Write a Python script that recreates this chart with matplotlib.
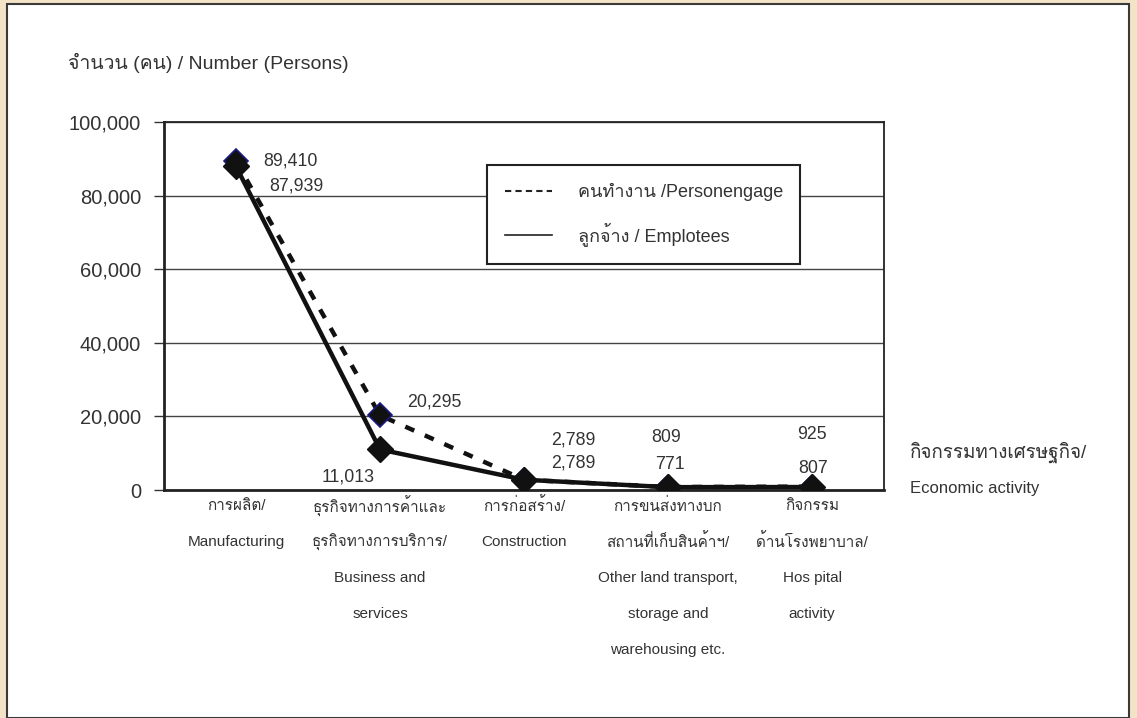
#!/usr/bin/env python3
"""
Employment by economic activity - line chart
"""

import matplotlib
matplotlib.use('Agg')
import matplotlib.pyplot as plt
from matplotlib import font_manager
from matplotlib.ft2font import FT2Font
from matplotlib.lines import Line2D
from matplotlib.patches import Rectangle

categories = [
    'การผลิต/\nManufacturing',
    'ธุรกิจทางการค้าและ\nธุรกิจทางการบริการ/\nBusiness and\nservices',
    'การก่อสร้าง/\nConstruction',
    'การขนส่งทางบก\nสถานที่เก็บสินค้าฯ/\nOther land transport,\nstorage and\nwarehousing etc.',
    'กิจกรรม\nด้านโรงพยาบาล/\nHos pital\nactivity',
]
persons_engaged = [89410, 20295, 2789, 809, 925]
employees = [87939, 11013, 2789, 771, 807]
yticks = [0, 20000, 40000, 60000, 80000, 100000]

# label offsets in pixels (dx, dy) and horizontal alignment
engaged_offsets = [(27, 0, 'left'), (27, 13, 'left'), (27, 40, 'left'),
                   (-2, 50, 'center'), (0, 52, 'center')]
employee_offsets = [(33, -20, 'left'), (-5, -28, 'right'), (27, 17, 'left'),
                    (2, 23, 'center'), (1, 19, 'center')]


def find_thai_font():
    """Look for any installed font that has Thai glyphs"""
    for f in font_manager.fontManager.ttflist:
        try:
            if 0x0E01 in FT2Font(f.fname).get_charmap():
                return f.name
        except Exception:
            pass
    return None


thai = find_thai_font()
families = ['Liberation Sans'] + ([thai] if thai else []) + ['DejaVu Sans']
plt.rcParams['font.family'] = families

TXT = '#333333'

fig = plt.figure(figsize=(11.37, 7.18), dpi=100)
fig.patch.set_facecolor('#f3e4c7')
W, H = 1137, 718
fig.patches.append(Rectangle((7 / W, 0), (1129 - 7) / W, (H - 4) / H,
                             transform=fig.transFigure, facecolor='white',
                             edgecolor='#3a3a3a', linewidth=1.5, zorder=-5))

ax = fig.add_axes([164 / W, 1 - 490 / H, 720 / W, 368 / H])
ax.set_facecolor('white')
x = list(range(len(categories)))

ax.plot(x, persons_engaged, color='#111111', linewidth=3.2,
        linestyle=(0, (2.2, 2.6)), marker='D', markersize=12,
        markerfacecolor='#111111', markeredgecolor='#1a1a80',
        markeredgewidth=1.2, zorder=3)
ax.plot(x, employees, color='#111111', linewidth=3.2, marker='D',
        markersize=13, markerfacecolor='#111111', markeredgecolor='#111111',
        zorder=4)

for xi, v, (dx, dy, ha) in zip(x, persons_engaged, engaged_offsets):
    ax.annotate(f'{v:,}', (xi, v), xytext=(dx, dy), textcoords='offset pixels',
                ha=ha, va='center', fontsize=12.8, color=TXT)
for xi, v, (dx, dy, ha) in zip(x, employees, employee_offsets):
    ax.annotate(f'{v:,}', (xi, v), xytext=(dx, dy), textcoords='offset pixels',
                ha=ha, va='center', fontsize=12.8, color=TXT)

ax.set_xlim(-0.5, len(categories) - 0.5)
ax.set_ylim(0, 100000)
ax.set_yticks(yticks)
ax.set_yticklabels([f'{t:,}' for t in yticks], fontsize=14.5, color=TXT)
ax.tick_params(axis='y', length=7.5, width=1, color='#333333', pad=9)

# category labels: one text per line so the rows are evenly spaced
ax.set_xticks(x)
ax.set_xticklabels([])
ax.tick_params(axis='x', length=0)
for xi, label in zip(x, categories):
    for j, line in enumerate(label.split('\n')):
        ax.annotate(line, (xi, 0), xycoords=ax.get_xaxis_transform(),
                    xytext=(0, -(16 + 36 * j)), textcoords='offset pixels',
                    ha='center', va='center', fontsize=11, color=TXT,
                    annotation_clip=False)

ax.grid(axis='y', color='#444444', linewidth=1)
ax.set_axisbelow(True)
for s in ax.spines.values():
    s.set_color('#222222')
    s.set_linewidth(1.3)
ax.spines['bottom'].set_linewidth(2)
ax.spines['left'].set_linewidth(2)

handles = [Line2D([], [], color='#222222', linestyle=(0, (3, 2)), linewidth=1.5),
           Line2D([], [], color='#222222', linewidth=1.2)]
leg = ax.legend(handles, ['คนทำงาน /Personengage', 'ลูกจ้าง / Emplotees'],
                loc='upper left', bbox_to_anchor=(0.449, 0.617, 0.435, 0.266),
                mode='expand', bbox_transform=ax.transAxes, borderaxespad=0,
                fontsize=13, frameon=True, fancybox=False, framealpha=1,
                labelspacing=1.15, handlelength=2.6, handletextpad=1.4,
                borderpad=1.0, labelcolor=TXT)
leg.get_frame().set_edgecolor('#222222')
leg.get_frame().set_linewidth(1.5)

fig.text(68 / W, 1 - 63 / H, 'จำนวน (คน) / Number (Persons)', fontsize=14,
         color=TXT, va='center', ha='left')
fig.text(910 / W, 1 - 452 / H, 'กิจกรรมทางเศรษฐกิจ/', fontsize=13.5,
         color=TXT, va='center', ha='left')
fig.text(910 / W, 1 - 488 / H, 'Economic activity', fontsize=12,
         color=TXT, va='center', ha='left')

fig.savefig('out.png', dpi=100, facecolor=fig.get_facecolor())
plt.close(fig)
